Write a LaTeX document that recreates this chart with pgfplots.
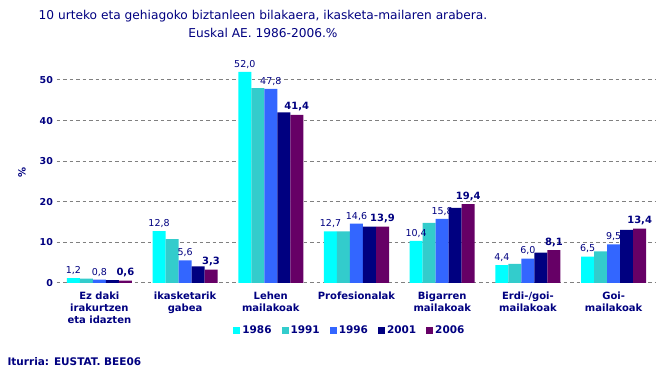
\documentclass[border=0pt]{standalone}
\usepackage{pgfplots}
\pgfplotsset{compat=1.18}
\usepackage{fontspec}
\setmainfont{DejaVu Sans}
\definecolor{navy}{HTML}{000080}
\definecolor{cA}{HTML}{00FFFF}
\definecolor{cB}{HTML}{33CCCC}
\definecolor{cC}{HTML}{3366FF}
\definecolor{cD}{HTML}{000080}
\definecolor{cE}{HTML}{660066}
\definecolor{gridgray}{HTML}{808080}
\begin{document}
\begin{tikzpicture}
\useasboundingbox (0pt,0pt) rectangle (672pt,379pt);
\node[font=\fontsize{12.2}{18}\selectfont, text=navy, align=center] at (263pt,355pt) {10 urteko eta gehiagoko biztanleen bilakaera, ikasketa-mailaren arabera.\\Euskal AE. 1986-2006.\%};
\node[anchor=west, font=\bfseries\fontsize{10.5}{12}\selectfont, text=navy] at (4pt,17pt) {Iturria: EUSTAT. BEE06};
\node[rotate=90, font=\bfseries\fontsize{10}{10}\selectfont, text=navy] at (22pt,207pt) {\%};
\begin{axis}[at={(56.5pt,96pt)}, anchor=south west, scale only axis,
  width=600pt, height=227.4pt,
  ymin=0, ymax=56, xmin=-0.5, xmax=6.5,
  ybar=0pt, bar width=13pt,
  axis line style={draw=none}, major tick length=0pt,
  ymajorgrids, grid style={gridgray, line width=1pt, dash pattern=on 3.5pt off 3pt},
  ytick={0,10,20,30,40,50},
  /pgf/number format/assume math mode=true,
  yticklabel style={font=\bfseries\fontsize{9.5}{10}\selectfont, text=navy},
  xtick={0,1,2,3,4,5,6},
  xticklabels={{Ez daki\\irakurtzen\\eta idazten},{ikasketarik\\gabea},{Lehen\\mailakoak},{Profesionalak},{Bigarren\\mailakoak},{Erdi-/goi-\\mailakoak},{Goi-\\mailakoak}},
  xticklabel style={align=center, yshift=-5pt, font=\bfseries\fontsize{10}{12}\selectfont, text=navy},
  legend style={at={(0.489,-0.21)}, anchor=center, legend columns=5, draw=none, fill=none,
    font=\bfseries\fontsize{10.5}{12}\selectfont, text=navy,
    /tikz/every even column/.append style={column sep=8pt}},
  legend image code/.code={\fill[#1] (0pt,-3.5pt) rectangle (7pt,3.5pt);},
]
\addplot[fill=cA, draw=none, nodes near coords={\pgfmathprintnumber[fixed,fixed zerofill,precision=1,use comma,assume math mode=true]{\pgfplotspointmeta}}, every node near coord/.append style={font=\fontsize{9.5}{10}\selectfont, text=navy}]
  coordinates {(0,1.2) (1,12.8) (2,52.0) (3,12.7) (4,10.4) (5,4.4) (6,6.5)};
\addplot[fill=cB, draw=none]
  coordinates {(0,1.1) (1,10.8) (2,48.0) (3,12.7) (4,14.8) (5,4.7) (6,7.8)};
\addplot[fill=cC, draw=none, nodes near coords={\pgfmathprintnumber[fixed,fixed zerofill,precision=1,use comma,assume math mode=true]{\pgfplotspointmeta}}, every node near coord/.append style={font=\fontsize{9.5}{10}\selectfont, text=navy}]
  coordinates {(0,0.8) (1,5.6) (2,47.8) (3,14.6) (4,15.8) (5,6.0) (6,9.5)};
\addplot[fill=cD, draw=none]
  coordinates {(0,0.7) (1,4.1) (2,42.0) (3,13.9) (4,18.5) (5,7.5) (6,13.1)};
\addplot[fill=cE, draw=none, nodes near coords={\pgfmathprintnumber[fixed,fixed zerofill,precision=1,use comma,assume math mode=true]{\pgfplotspointmeta}}, every node near coord/.append style={font=\bfseries\fontsize{10}{10}\selectfont, text=navy}]
  coordinates {(0,0.6) (1,3.3) (2,41.4) (3,13.9) (4,19.4) (5,8.1) (6,13.4)};
\legend{1986,1991,1996,2001,2006}
\end{axis}
\end{tikzpicture}
\end{document}
